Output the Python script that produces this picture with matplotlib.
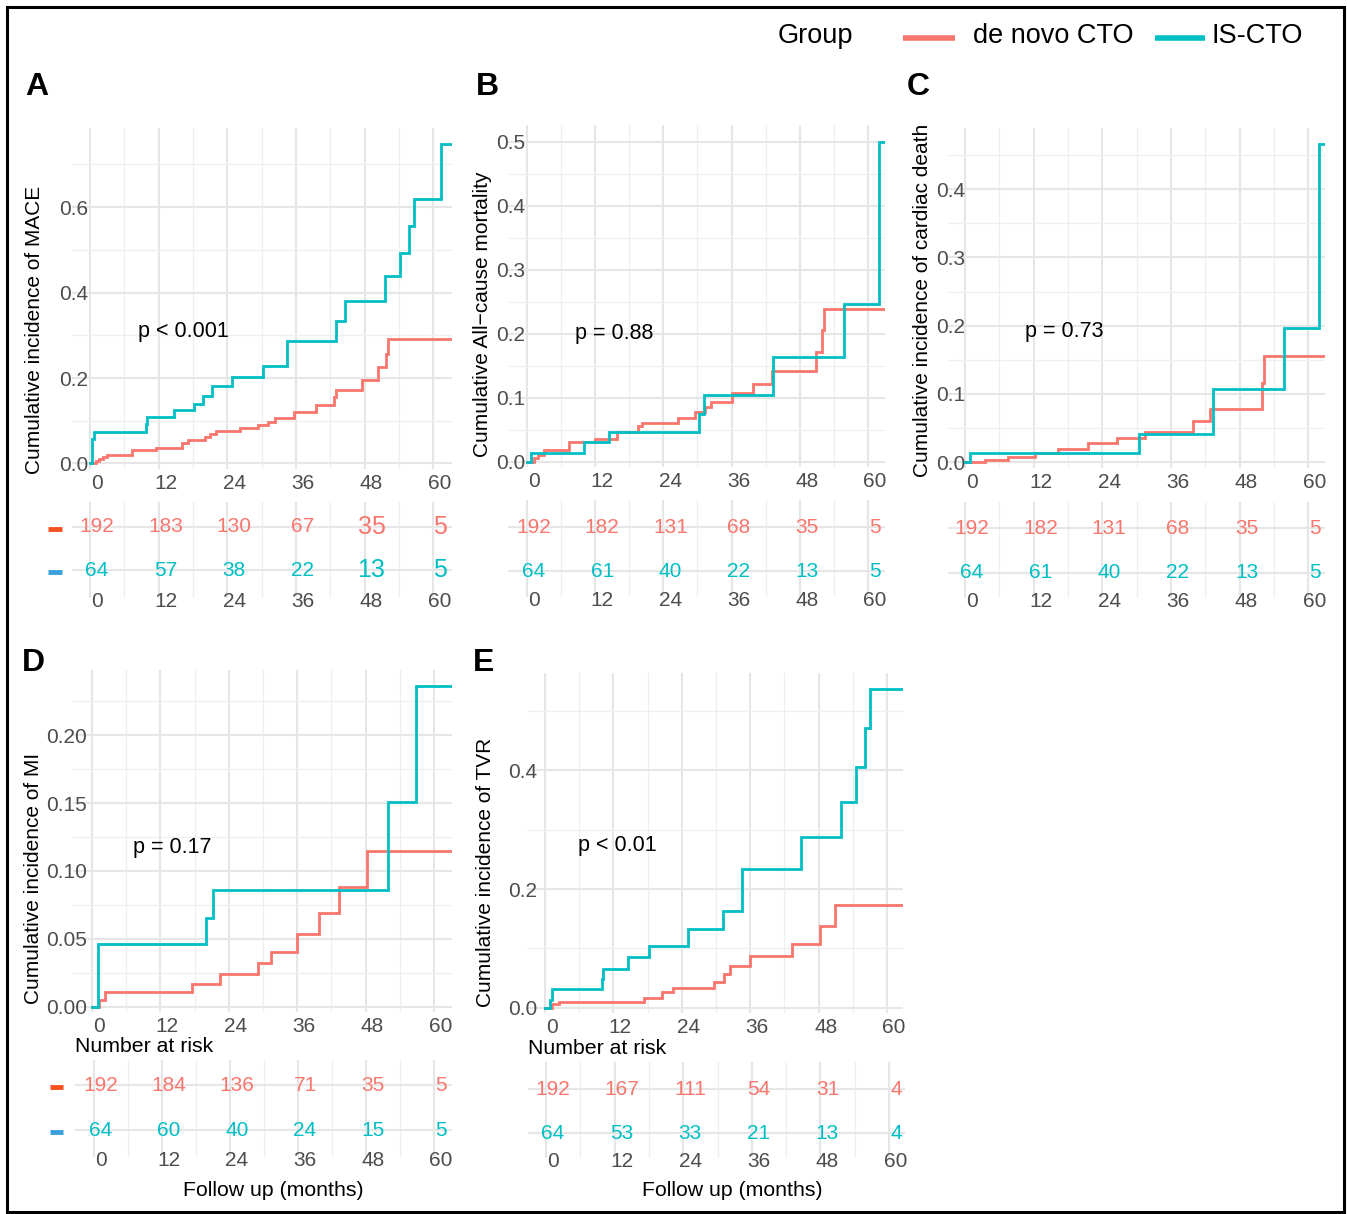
import matplotlib
matplotlib.use('Agg')
import matplotlib.pyplot as plt
from matplotlib.transforms import ScaledTranslation
from matplotlib.lines import Line2D
from matplotlib.patches import Rectangle
from matplotlib.ticker import FixedLocator, FormatStrFormatter

plt.rcParams['font.family'] = ['Liberation Sans', 'DejaVu Sans']

W, H, DPI = 1347, 1214, 100

# ---------------- data ----------------
groups = ['de novo CTO', 'IS-CTO']
col_red = '#F8766D'
col_teal = '#00BFC4'
risk_times = [0, 12, 24, 36, 48, 60]

# Panel A: MACE
A_red_t = [0, 1.0, 1.6, 2.2, 3.0, 7.3, 11.6, 16.0, 17.2, 20.1, 21.0, 22.1, 26.2, 29.4, 31.2, 32.3,
           35.6, 39.6, 42.6, 43.0, 47.6, 50.4, 51.8, 52.1, 63.2]
A_red_y = [0, 0.005, 0.010, 0.016, 0.021, 0.031, 0.037, 0.048, 0.054, 0.062, 0.068, 0.075, 0.082,
           0.089, 0.097, 0.107, 0.121, 0.138, 0.156, 0.173, 0.196, 0.226, 0.257, 0.291, 0.291]
A_teal_t = [0, 0.4, 0.7, 9.8, 10.0, 14.6, 18.1, 19.7, 21.3, 24.8, 30.2, 34.4, 43.0, 44.6, 51.5,
            54.2, 55.8, 56.7, 61.4, 63.2]
A_teal_y = [0, 0.058, 0.074, 0.093, 0.109, 0.125, 0.140, 0.158, 0.181, 0.202, 0.227, 0.286, 0.333,
            0.380, 0.438, 0.493, 0.555, 0.620, 0.747, 0.747]
A_risk_red = [192, 183, 130, 67, 35, 5]
A_risk_teal = [64, 57, 38, 22, 13, 5]

# Panel B: all-cause mortality
B_red_t = [0, 1.2, 2.0, 2.9, 7.3, 12.0, 15.8, 19.6, 20.2, 26.5, 29.6, 31.3, 32.3, 36.0, 39.8, 43.2,
           50.8, 52.0, 52.2, 62.9]
B_red_y = [0, 0.005, 0.010, 0.018, 0.030, 0.035, 0.046, 0.055, 0.060, 0.069, 0.077, 0.086, 0.094,
           0.107, 0.122, 0.141, 0.172, 0.206, 0.239, 0.239]
B_teal_t = [0, 0.7, 10.0, 14.5, 30.3, 31.2, 43.3, 55.8, 61.9, 62.9]
B_teal_y = [0, 0.014, 0.030, 0.046, 0.074, 0.104, 0.163, 0.247, 0.499, 0.499]
B_risk_red = [192, 182, 131, 68, 35, 5]
B_risk_teal = [64, 61, 40, 22, 13, 5]

# Panel C: cardiac death
C_red_t = [0, 3.5, 7.6, 12.2, 16.3, 21.5, 26.6, 31.5, 39.9, 42.8, 52.0, 52.2, 62.9]
C_red_y = [0, 0.004, 0.008, 0.013, 0.019, 0.028, 0.035, 0.044, 0.060, 0.078, 0.116, 0.155, 0.155]
C_teal_t = [0, 0.9, 30.5, 43.3, 55.7, 61.9, 62.9]
C_teal_y = [0, 0.013, 0.042, 0.107, 0.196, 0.466, 0.466]
C_risk_red = [192, 182, 131, 68, 35, 5]
C_risk_teal = [64, 61, 40, 22, 13, 5]

# Panel D: MI
D_red_t = [0, 1.3, 2.2, 17.6, 22.5, 29.1, 31.4, 36.0, 39.8, 43.4, 48.3, 63.1]
D_red_y = [0, 0.005, 0.0106, 0.017, 0.024, 0.032, 0.040, 0.0535, 0.069, 0.088, 0.115, 0.115]
D_teal_t = [0, 1.0, 20.0, 21.3, 51.9, 56.8, 63.1]
D_teal_y = [0, 0.046, 0.065, 0.086, 0.151, 0.236, 0.236]
D_risk_red = [192, 184, 136, 71, 35, 5]
D_risk_teal = [64, 60, 40, 24, 15, 5]

# Panel E: TVR
E_red_t = [0, 1.2, 2.5, 17.4, 20.5, 22.4, 29.7, 31.4, 32.5, 36.0, 43.3, 48.2, 50.8, 62.8]
E_red_y = [0, 0.006, 0.010, 0.017, 0.026, 0.034, 0.044, 0.057, 0.070, 0.087, 0.108, 0.137, 0.173, 0.173]
E_teal_t = [0, 0.9, 1.2, 10.0, 10.2, 14.6, 18.3, 25.0, 31.2, 34.6, 44.9, 51.9, 54.6, 56.2, 57.0, 62.8]
E_teal_y = [0, 0.013, 0.031, 0.048, 0.066, 0.085, 0.104, 0.132, 0.163, 0.233, 0.288, 0.347, 0.406,
            0.472, 0.537, 0.537]
E_risk_red = [192, 167, 111, 54, 31, 4]
E_risk_teal = [64, 53, 33, 21, 13, 4]

ylabels = {
    'A': 'Cumulative incidence of MACE',
    'B': 'Cumulative All\u2212cause mortality',
    'C': 'Cumulative incidence of cardiac death',
    'D': 'Cumulative incidence of MI',
    'E': 'Cumulative incidence of TVR',
}
pvals = {'A': 'p < 0.001', 'B': 'p = 0.88', 'C': 'p = 0.73', 'D': 'p = 0.17', 'E': 'p < 0.01'}

# ---------------- layout (pixels) ----------------
panels = [
    dict(k='A', red=(A_red_t, A_red_y), teal=(A_teal_t, A_teal_y), rr=A_risk_red, rt=A_risk_teal,
         main=(72, 452, 128, 469), xlim=(-3.15, 63.3), ylim=(-0.0129, 0.785),
         yt=[0, 0.2, 0.4, 0.6], ym=[0.1, 0.3, 0.5, 0.7], fmt='%.1f', ypad=16,
         risk=(72, 452, 502, 598), rylim=(-0.651, 1.581),
         ylab=(35, 330), let=(25, 87), pv=(138, 332), dash=(48, 62), big=[4, 5]),
    dict(k='B', red=(B_red_t, B_red_y), teal=(B_teal_t, B_teal_y), rr=B_risk_red, rt=B_risk_teal,
         main=(508, 885, 125, 467), xlim=(-3.35, 63.0), ylim=(-0.0083, 0.526),
         yt=[0, 0.1, 0.2, 0.3, 0.4, 0.5], ym=[0.05, 0.15, 0.25, 0.35, 0.45], fmt='%.1f', ypad=17,
         risk=(508, 885, 500, 597), rylim=(-0.591, 1.614),
         ylab=(482, 314), let=(476, 87), pv=(575, 333), dash=None, big=[]),
    dict(k='C', red=(C_red_t, C_red_y), teal=(C_teal_t, C_teal_y), rr=C_risk_red, rt=C_risk_teal,
         main=(948, 1325, 128, 468), xlim=(-2.97, 62.94), ylim=(-0.0084, 0.4895),
         yt=[0, 0.1, 0.2, 0.3, 0.4], ym=[0.05, 0.15, 0.25, 0.35, 0.45], fmt='%.1f', ypad=17,
         risk=(948, 1325, 502, 598), rylim=(-0.556, 1.578),
         ylab=(923, 300), let=(907, 87), pv=(1025, 331), dash=None, big=[]),
    dict(k='D', red=(D_red_t, D_red_y), teal=(D_teal_t, D_teal_y), rr=D_risk_red, rt=D_risk_teal,
         main=(73, 452, 670, 1012), xlim=(-3.33, 63.16), ylim=(-0.0039, 0.248),
         yt=[0, 0.05, 0.10, 0.15, 0.20], ym=[0.025, 0.075, 0.125, 0.175, 0.225], fmt='%.2f', ypad=14,
         risk=(75, 452, 1060, 1157), rylim=(-0.6, 1.556),
         ylab=(34, 878), let=(22, 663), pv=(133, 848), dash=(50, 63), big=[]),
    dict(k='E', red=(E_red_t, E_red_y), teal=(E_teal_t, E_teal_y), rr=E_risk_red, rt=E_risk_teal,
         main=(527, 903, 673, 1013), xlim=(-3.16, 62.8), ylim=(-0.0089, 0.564),
         yt=[0, 0.2, 0.4], ym=[0.1, 0.3, 0.5], fmt='%.1f', ypad=10,
         risk=(528, 905, 1062, 1158), rylim=(-0.568, 1.614),
         ylab=(486, 872), let=(473, 663), pv=(578, 846), dash=None, big=[]),
]

fig = plt.figure(figsize=(W / DPI, H / DPI), dpi=DPI)
fig.patch.set_facecolor('white')


def fx(px):
    return px / W


def fy(py):
    return 1 - py / H


def add_ax(box):
    l, r, t, b = box
    return fig.add_axes([l / W, 1 - b / H, (r - l) / W, (b - t) / H])


shift = ScaledTranslation(7 / DPI, 0, fig.dpi_scale_trans)
GRID_MAJ = dict(color='#E6E6E6', lw=1.5)
GRID_MIN = dict(color='#EFEFEF', lw=0.9)
TICK_COL = '#4D4D4D'
xmaj = [0, 12, 24, 36, 48, 60]
xmin = [6, 18, 30, 42, 54]


def style(ax):
    for s in ax.spines.values():
        s.set_visible(False)
    ax.set_facecolor('white')
    ax.xaxis.set_major_locator(FixedLocator(xmaj))
    ax.xaxis.set_minor_locator(FixedLocator(xmin))
    ax.grid(True, which='major', **GRID_MAJ)
    ax.grid(True, which='minor', **GRID_MIN)
    ax.set_axisbelow(True)
    ax.tick_params(which='both', length=0)


for p in panels:
    ax = add_ax(p['main'])
    style(ax)
    ax.set_xlim(*p['xlim'])
    ax.set_ylim(*p['ylim'])
    ax.yaxis.set_major_locator(FixedLocator(p['yt']))
    ax.yaxis.set_minor_locator(FixedLocator(p['ym']))
    ax.yaxis.set_major_formatter(FormatStrFormatter(p['fmt']))
    ax.tick_params(axis='x', labelsize=15, labelcolor=TICK_COL, pad=3.5)
    ax.tick_params(axis='y', labelsize=15, labelcolor=TICK_COL, pad=-p['ypad'] * 0.72)
    for (t, y), c in ((p['red'], col_red), (p['teal'], col_teal)):
        ax.step(t, y, where='post', color=c, lw=2.0, zorder=3, solid_joinstyle='miter')
    for lbl in ax.get_xticklabels():
        lbl.set_transform(lbl.get_transform() + shift)
    for lbl in ax.get_yticklabels():
        lbl.set_zorder(4)

    # risk table
    rax = add_ax(p['risk'])
    style(rax)
    rax.set_xlim(*p['xlim'])
    rax.set_ylim(*p['rylim'])
    rax.yaxis.set_major_locator(FixedLocator([0, 1]))
    rax.yaxis.set_minor_locator(FixedLocator([]))
    rax.set_yticklabels([])
    rax.tick_params(axis='x', labelsize=15, labelcolor=TICK_COL, pad=-4)
    for lbl in rax.get_xticklabels():
        lbl.set_transform(lbl.get_transform() + shift)
    for i, (tm, nr, nt) in enumerate(zip(risk_times, p['rr'], p['rt'])):
        fs = 18 if i in p['big'] else 15
        rax.text(tm, 1, str(nr), color=col_red, fontsize=fs, ha='center', va='center',
                 transform=rax.transData + shift, zorder=5)
        rax.text(tm, 0, str(nt), color=col_teal, fontsize=fs, ha='center', va='center',
                 transform=rax.transData + shift, zorder=5)

    if p['dash'] is not None:
        x0, x1 = p['dash']
        t_ = p['risk'][2]
        b_ = p['risk'][3]
        lo, hi = p['rylim']
        for val, c in ((1, '#F4511E'), (0, '#3AA0DC')):
            ypx = b_ - (val - lo) / (hi - lo) * (b_ - t_)
            fig.add_artist(Line2D([fx(x0), fx(x1)], [fy(ypx + 2), fy(ypx + 2)], color=c, lw=3.5,
                                  solid_capstyle='butt', transform=fig.transFigure))

    # texts
    fig.text(fx(p['ylab'][0]), fy(p['ylab'][1]), ylabels[p['k']], rotation=90, ha='center',
             va='center', fontsize=15, color='black')
    fig.text(fx(p['let'][0]), fy(p['let'][1]), p['k'], fontsize=23, fontweight='bold',
             ha='left', va='center', color='black')
    fig.text(fx(p['pv'][0]), fy(p['pv'][1]), pvals[p['k']], fontsize=15.5, ha='left',
             va='center', color='black')

# Number at risk / x labels
for (x, y) in ((75, 1047), (528, 1048)):
    fig.text(fx(x), fy(y), 'Number at risk', fontsize=15.3, ha='left', va='center', color='black')
for (x, y) in ((273, 1190), (732, 1190)):
    fig.text(fx(x), fy(y), 'Follow up (months)', fontsize=15.3, ha='center', va='center',
             color='black')

# legend
fig.text(fx(778), fy(36), 'Group', fontsize=19.5, ha='left', va='center', color='black')
fig.add_artist(Line2D([fx(903), fx(955)], [fy(38), fy(38)], color=col_red, lw=4,
                      solid_capstyle='butt', transform=fig.transFigure))
fig.text(fx(973), fy(36), groups[0], fontsize=19.5, ha='left', va='center', color='black')
fig.add_artist(Line2D([fx(1155), fx(1205)], [fy(38), fy(38)], color=col_teal, lw=4,
                      solid_capstyle='butt', transform=fig.transFigure))
fig.text(fx(1212), fy(36), groups[1], fontsize=19.5, ha='left', va='center', color='black')

# outer border
fig.add_artist(Rectangle((fx(7), fy(1212)), (1344 - 7) / W, (1212 - 7) / H, fill=False,
                         edgecolor='black', lw=2.2, transform=fig.transFigure))

fig.savefig('out.png', dpi=DPI, facecolor='white')
